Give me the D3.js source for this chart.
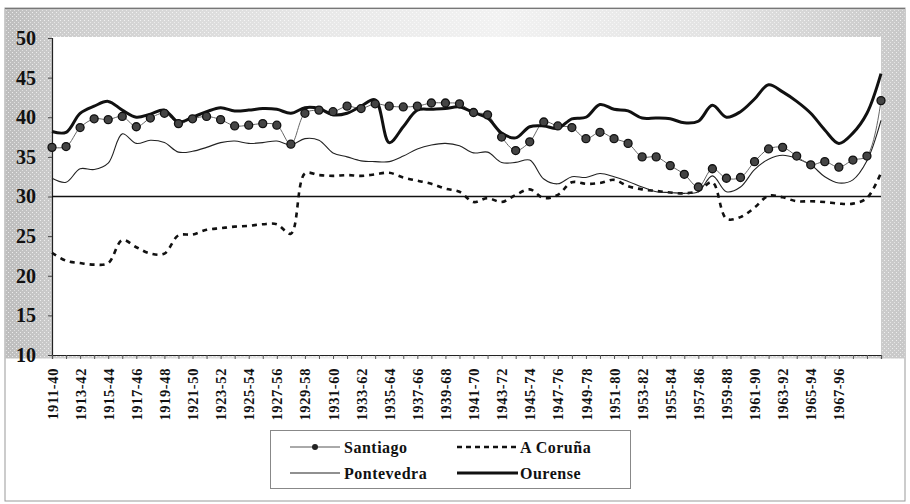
<!DOCTYPE html>
<html>
<head>
<meta charset="utf-8">
<script src="https://cdn.jsdelivr.net/npm/d3@7"></script>
<style>
  body { margin: 0; background: #fff; }
  svg { display: block; }
  svg text { font-family: "Liberation Serif", serif; font-weight: bold; }
</style>
</head>
<body>
<svg id="chart" width="910" height="504"></svg>
<script>
// categories (30-year windows)
let categories = [
  "1911-40","1912-41","1913-42","1914-43","1915-44","1916-45","1917-46","1918-47","1919-48","1920-49",
  "1921-50","1922-51","1923-52","1924-53","1925-54","1926-55","1927-56","1928-57","1929-58","1930-59",
  "1931-60","1932-61","1933-62","1934-63","1935-64","1936-65","1937-66","1938-67","1939-68","1940-69",
  "1941-70","1942-71","1943-72","1944-73","1945-74","1946-75","1947-76","1948-77","1949-78","1950-79",
  "1951-80","1952-81","1953-82","1954-83","1955-84","1956-85","1957-86","1958-87","1959-88","1960-89",
  "1961-90","1962-91","1963-92","1964-93","1965-94","1966-95","1967-96","1968-97","1969-98","1970-99"
];
// labels printed under the axis
let tickLabels = [
  "1911-40","1913-42","1915-44","1917-46","1919-48","1921-50","1923-52","1925-54","1927-56","1929-58",
  "1931-60","1933-62","1935-64","1937-66","1939-68","1941-70","1943-72","1945-74","1947-76","1949-78",
  "1951-80","1953-82","1955-84","1957-86","1959-88","1961-90","1963-92","1965-94","1967-96"
];
let yTicks = [10, 15, 20, 25, 30, 35, 40, 45, 50];
let refValue = 30;

let santiago = [
  36.2, 36.3, 38.7, 39.8, 39.7, 40.1, 38.8, 39.9, 40.5, 39.2,
  39.8, 40.1, 39.7, 38.9, 39.0, 39.2, 39.0, 36.6, 40.5, 40.9,
  40.7, 41.4, 41.1, 41.7, 41.4, 41.3, 41.4, 41.8, 41.8, 41.7,
  40.6, 40.3, 37.5, 35.8, 36.9, 39.4, 38.9, 38.7, 37.3, 38.1,
  37.3, 36.7, 35.0, 35.0, 33.9, 32.8, 31.2, 33.5, 32.3, 32.4,
  34.4, 36.0, 36.2, 35.1, 34.0, 34.4, 33.7, 34.6, 35.1, 42.1
];
let aCoruna = [
  22.9, 21.9, 21.6, 21.4, 21.6, 24.5, 23.6, 22.8, 22.8, 25.1,
  25.2, 25.8, 26.0, 26.2, 26.3, 26.5, 26.5, 25.3, 32.9, 32.7,
  32.6, 32.7, 32.6, 32.8, 33.0, 32.4, 32.0, 31.6, 31.0, 30.6,
  29.3, 29.8, 29.3, 30.2, 30.9, 29.8, 30.2, 31.8, 31.6, 31.7,
  32.1, 31.3, 30.9, 30.7, 30.5, 30.4, 30.7, 31.8, 27.2, 27.4,
  28.6, 30.1, 29.9, 29.4, 29.4, 29.3, 29.1, 29.1, 29.8, 33.0
];
let pontevedra = [
  32.3, 31.8, 33.5, 33.4, 34.2, 37.9, 36.7, 37.1, 36.8, 35.6,
  35.7, 36.2, 36.8, 37.0, 36.7, 36.8, 37.0, 36.5, 37.3, 37.1,
  35.5, 35.0, 34.5, 34.4, 34.4, 35.1, 36.0, 36.5, 36.7, 36.4,
  35.5, 35.6, 34.3, 34.3, 34.6, 32.2, 31.6, 32.5, 32.4, 32.9,
  32.5, 31.9, 31.2, 30.6, 30.5, 30.4, 30.6, 32.6, 30.6, 31.2,
  33.4, 34.7, 35.2, 34.8, 34.0, 32.5, 31.7, 32.1, 34.5, 39.6
];
let ourense = [
  38.2, 38.1, 40.5, 41.4, 42.0, 40.9, 40.0, 40.4, 40.9, 39.4,
  40.0, 40.7, 41.2, 40.8, 40.9, 41.1, 41.0, 40.5, 41.2, 41.1,
  40.3, 40.5, 41.4, 42.2, 36.8, 38.8, 40.9, 41.0, 41.1, 41.3,
  40.6, 39.9, 38.0, 37.4, 38.8, 38.9, 38.6, 39.8, 40.0, 41.6,
  41.0, 40.8, 39.9, 39.9, 39.8, 39.3, 39.5, 41.5, 40.0, 40.7,
  42.3, 44.1, 43.2, 42.0, 40.5, 38.4, 36.7, 38.0, 40.5, 45.5
];

let seriesNames = ["Santiago", "A Coruña", "Pontevedra", "Ourense"];

let serifFont = "Liberation Serif";
let margin = { left: 52, top: 37, right: 881, bottom: 355 };

let svg = d3.select("#chart");

// chart frame + stippled band round the plot
let defs = svg.append("defs");
let grad = defs.append("linearGradient")
  .attr("id", "band")
  .attr("x1", "0%").attr("x2", "100%")
  .attr("y1", "0%").attr("y2", "0%");
[["0%", "#bdbdbd"], ["6%", "#cdcdcd"], ["35%", "#e8e8e8"], ["55%", "#f2f2f2"], ["80%", "#e2e2e2"], ["100%", "#c8c8c8"]]
  .forEach(s => grad.append("stop").attr("offset", s[0]).attr("stop-color", s[1]));

// light speckle on top of the band
let speck = defs.append("pattern")
  .attr("id", "speck")
  .attr("width", 4).attr("height", 4)
  .attr("patternUnits", "userSpaceOnUse");
speck.append("rect").attr("width", 1).attr("height", 1).attr("fill", "#fff").attr("opacity", 0.7);
speck.append("rect").attr("x", 2).attr("y", 2).attr("width", 1).attr("height", 1).attr("fill", "#fff").attr("opacity", 0.5);

svg.append("rect")
  .attr("x", 5).attr("y", 8)
  .attr("width", 900).attr("height", 493)
  .attr("fill", "#fff")
  .attr("stroke", "#999")
  .attr("stroke-width", 1)
;
svg.append("rect")
  .attr("x", 5.5).attr("y", 8.5)
  .attr("width", 899).attr("height", 350)
  .attr("fill", "url(#band)")
;
svg.append("rect")
  .attr("x", 5.5).attr("y", 8.5)
  .attr("width", 899).attr("height", 350)
  .attr("fill", "url(#speck)")
;
svg.append("line")
  .attr("x1", 5).attr("x2", 905)
  .attr("y1", 8.5).attr("y2", 8.5)
  .attr("stroke", "#777")
;
svg.append("rect")
  .attr("x", margin.left).attr("y", margin.top)
  .attr("width", margin.right - margin.left)
  .attr("height", margin.bottom - margin.top)
  .attr("fill", "#fff")
;

let x = d3.scalePoint()
  .domain(categories)
  .range([margin.left, margin.right]);

let y = d3.scaleLinear()
  .domain([10, 50])
  .range([margin.bottom, margin.top + 1]);

// y axis
let yAxis = svg.append("g")
  .attr("transform", `translate(${margin.left},0)`)
  .call(d3.axisLeft(y).tickValues(yTicks).tickSize(4).tickPadding(12))
;
yAxis.attr("font-family", serifFont).attr("font-weight", "bold");
yAxis.select(".domain").attr("stroke", "#222").attr("stroke-width", 1.2);
yAxis.selectAll(".tick line").attr("stroke", "#444");
yAxis.selectAll(".tick text")
  .attr("font-family", serifFont)
  .style("font-family", serifFont)
  .style("font-weight", "bold")
  .style("font-size", "20px")
  .attr("fill", "#111")
;

// x axis
let xAxis = svg.append("g")
  .attr("transform", `translate(0,${margin.bottom})`)
  .call(d3.axisBottom(x).tickSize(4).tickFormat(d => tickLabels.includes(d) ? d : ""))
;
xAxis.attr("font-family", serifFont).attr("font-weight", "bold");
xAxis.select(".domain").attr("stroke", "#222").attr("stroke-width", 1.2);
xAxis.selectAll(".tick line").attr("stroke", "#555");
xAxis.selectAll(".tick text")
  .attr("font-family", serifFont)
  .style("font-family", serifFont)
  .style("font-weight", "bold")
  .style("font-size", "14.5px")
  .style("letter-spacing", "0.6px")
  .attr("fill", "#111")
  .attr("text-anchor", "end")
  .attr("transform", "rotate(-90)")
  .attr("x", -13)
  .attr("y", 0)
  .attr("dy", "0.35em")
;

// reference line at 30
svg.append("line")
  .attr("x1", margin.left).attr("x2", margin.right)
  .attr("y1", y(refValue)).attr("y2", y(refValue))
  .attr("stroke", "#111")
  .attr("stroke-width", 1.4)
;

let line = d3.line()
  .x((d, i) => x(categories[i]))
  .y(d => y(d))
  .curve(d3.curveCatmullRom)
;

let series = [
  { name: "A Coruña", values: aCoruna, width: 2.6, dash: "5,5", color: "#111" },
  { name: "Pontevedra", values: pontevedra, width: 1.1, dash: null, color: "#222" },
  { name: "Santiago", values: santiago, width: 1, dash: null, color: "#666" },
  { name: "Ourense", values: ourense, width: 3, dash: null, color: "#111" }
];

svg.append("g").attr("id", "lines")
  .selectAll(".series")
  .data(series)
  .enter()
  .append("path")
  .attr("class", "series")
  .style("fill", "none")
  .attr("d", s => line(s.values))
  .attr("stroke", s => s.color)
  .attr("stroke-width", s => s.width)
  .attr("stroke-dasharray", s => s.dash)
  .attr("stroke-linejoin", "round")
;

svg.append("g").attr("id", "markers")
  .selectAll(".santiago-dot")
  .data(santiago)
  .enter()
  .append("circle")
  .attr("class", "santiago-dot")
  .attr("cx", (d, i) => x(categories[i]))
  .attr("cy", d => y(d))
  .attr("r", 4)
  .attr("fill", "#444")
  .attr("stroke", "#111")
  .attr("stroke-width", 1.3)
;

// legend
let legend = svg.append("g").attr("id", "legend");
legend.append("rect")
  .attr("x", 270.5).attr("y", 430.5)
  .attr("width", 360).attr("height", 58)
  .attr("fill", "#fff")
  .attr("stroke", "#888")
  .attr("stroke-width", 1)
;

let legendItems = [
  { name: seriesNames[0], x: 290, y: 447, width: 1, dash: null, color: "#555", marker: true },
  { name: seriesNames[1], x: 457, y: 447, width: 2.6, dash: "5,4", color: "#111", marker: false },
  { name: seriesNames[2], x: 290, y: 473, width: 1.1, dash: null, color: "#222", marker: false },
  { name: seriesNames[3], x: 457, y: 473, width: 3, dash: null, color: "#111", marker: false }
];

let items = legend.selectAll(".legend-item")
  .data(legendItems)
  .enter()
  .append("g")
  .attr("class", "legend-item")
  .attr("transform", d => `translate(${d.x},${d.y})`)
;
items.append("line")
  .attr("x1", 0).attr("x2", d => d.name === "A Coruña" || d.name === "Ourense" ? 61 : 50)
  .attr("y1", 0).attr("y2", 0)
  .attr("stroke", d => d.color)
  .attr("stroke-width", d => d.width)
  .attr("stroke-dasharray", d => d.dash)
;
items.filter(d => d.marker)
  .append("circle")
  .attr("cx", 25).attr("cy", 0)
  .attr("r", 3)
  .attr("fill", "#222")
;
items.append("text")
  .attr("x", d => d.name === "A Coruña" || d.name === "Ourense" ? 63 : 54)
  .attr("y", 0)
  .attr("dy", "0.35em")
  .attr("font-family", serifFont)
  .style("font-family", serifFont)
  .style("font-weight", "bold")
  .style("font-size", "16px")
  .style("letter-spacing", "0.5px")
  .attr("fill", "#111")
  .text(d => d.name)
;
</script>
</body>
</html>
